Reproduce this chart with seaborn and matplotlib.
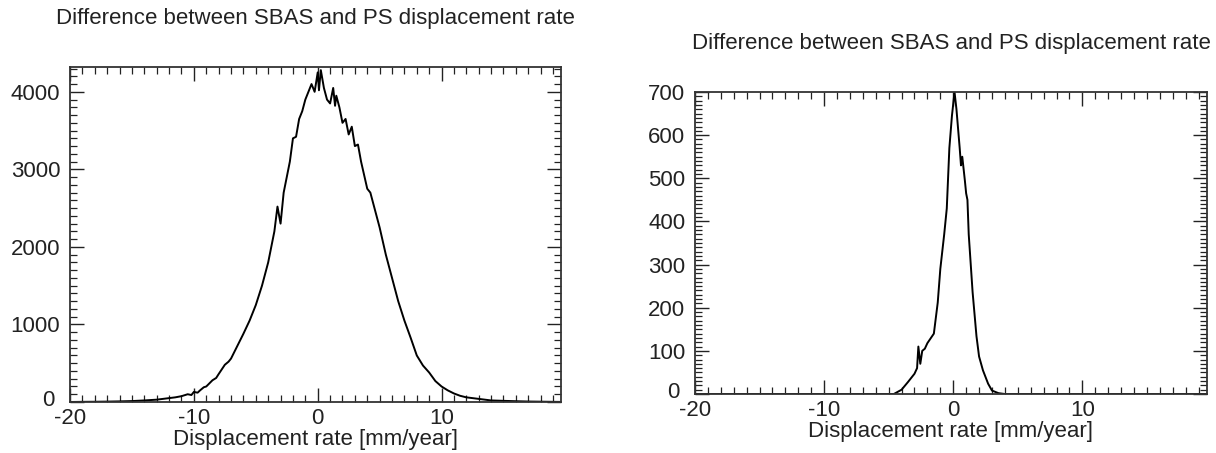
import numpy as np
import pandas as pd
import matplotlib
matplotlib.use("Agg")
import matplotlib.pyplot as plt
from matplotlib.ticker import MultipleLocator, FuncFormatter
import seaborn as sns

# Histogram of the SBAS - PS rate difference
left_rate = [-20, -19, -18, -17, -16, -15, -14, -13, -12, -11.5, -11, -10.5,
             -10.2, -10, -9.7, -9.5, -9.2, -9, -8.5, -8.2, -8, -7.5, -7.2, -7,
             -6.5, -6, -5.5, -5, -4.5, -4, -3.75, -3.5, -3.25, -3.0, -2.75,
             -2.5, -2.25, -2.0, -1.75, -1.5, -1.25, -1.0, -0.75, -0.5, -0.25,
             0.0, 0.1, 0.25, 0.5, 0.75, 1.0, 1.25, 1.4, 1.5, 1.75, 2.0, 2.25,
             2.5, 2.75, 3.0, 3.25, 3.5, 4.0, 4.25, 4.5, 5.0, 5.5, 6.0, 6.5,
             7.0, 7.5, 8.0, 8.5, 9.0, 9.5, 10, 10.5, 11, 11.5, 12, 13, 14,
             15, 16, 17, 18, 19, 19.6]
left_count = [0, 2, 3, 5, 8, 12, 20, 30, 50, 60, 75, 100,
              90, 130, 120, 150, 190, 200, 280, 310, 360, 480, 520, 560,
              720, 880, 1050, 1250, 1500, 1800, 2000, 2200, 2520, 2300, 2700,
              2900, 3100, 3400, 3420, 3650, 3750, 3900, 4000, 4100, 4000,
              4250, 4020, 4280, 4050, 3900, 3850, 4050, 3820, 3950, 3800, 3600,
              3650, 3450, 3550, 3300, 3320, 3100, 2750, 2700, 2550, 2250, 1900,
              1600, 1300, 1050, 830, 600, 470, 380, 270, 200, 150, 110, 80, 60,
              40, 20, 15, 10, 6, 4, 2, 1]

right_rate = [-20, -10, -5, -4.6, -4, -3.5, -3, -2.8, -2.7, -2.55, -2.4, -2.2,
              -2, -1.5, -1.2, -1, -0.7, -0.5, -0.3, -0.1, 0.1, 0.25, 0.5,
              0.6, 0.7, 0.9, 1.0, 1.1, 1.2, 1.5, 1.8, 2.0, 2.3, 2.7, 3.0,
              3.5, 4, 10, 19.7]
right_count = [0, 0, 0, 0, 10, 28, 47, 60, 110, 70, 100, 105,
               118, 140, 212, 290, 370, 430, 570, 645, 700, 660, 570,
               530, 550, 495, 465, 450, 370, 236, 134, 87, 55, 24, 8,
               2, 0, 0, 0]

TITLE = "Difference between SBAS and PS displacement rate"
XLABEL = "Displacement rate [mm/year]"

sns.set_style("ticks")
plt.rcParams["font.family"] = ["Liberation Sans", "DejaVu Sans"]
plt.rcParams["axes.unicode_minus"] = False
FS = 16
TXT = "#222222"


def style_axis(ax, ymax, ymajor, yminor):
    ax.set_xlim(-20, 19.65)
    ax.set_ylim(0, ymax)
    ax.set_xticks([-20, -10, 0, 10])
    ax.xaxis.set_minor_locator(MultipleLocator(1))
    ax.yaxis.set_major_locator(MultipleLocator(ymajor))
    ax.yaxis.set_minor_locator(MultipleLocator(yminor))
    # IDL puts the y "0" up-left of the corner, drawn separately below
    ax.yaxis.set_major_formatter(FuncFormatter(lambda v, p: "" if v == 0 else f"{v:.0f}"))
    ax.tick_params(which="both", direction="in", top=True, right=True,
                   color=TXT, labelsize=FS, labelcolor=TXT)
    ax.tick_params(which="major", length=10, width=1.0)
    ax.tick_params(which="minor", length=5, width=0.9)
    ax.tick_params(axis="x", pad=4)
    ax.tick_params(axis="y", pad=7)
    for s in ax.spines.values():
        s.set_linewidth(1.3)
        s.set_color("#333333")
    ax.annotate("0", xy=(0, 0), xycoords="axes fraction", xytext=(-11, 1),
                textcoords="offset points", ha="right", va="center",
                fontsize=FS, color=TXT)
    ax.set_title(TITLE, fontsize=FS, pad=31, color=TXT)
    ax.set_xlabel(XLABEL, fontsize=FS, labelpad=0, color=TXT)
    ax.set_ylabel("")


fig = plt.figure(figsize=(12.16, 4.53), dpi=100)
ax1 = fig.add_axes([0.0576, 0.1126, 0.4038, 0.7395])
ax2 = fig.add_axes([0.5715, 0.1302, 0.4211, 0.6667])

df_left = pd.DataFrame({"rate": left_rate, "count": left_count})
df_right = pd.DataFrame({"rate": right_rate, "count": right_count})

sns.lineplot(data=df_left, x="rate", y="count", ax=ax1, color="black",
             linewidth=1.4, sort=False)
sns.lineplot(data=df_right, x="rate", y="count", ax=ax2, color="black",
             linewidth=1.4, sort=False)

style_axis(ax1, 4320, 1000, 100)
style_axis(ax2, 700, 100, 10)

fig.savefig("out.png", dpi=100)
plt.close(fig)
